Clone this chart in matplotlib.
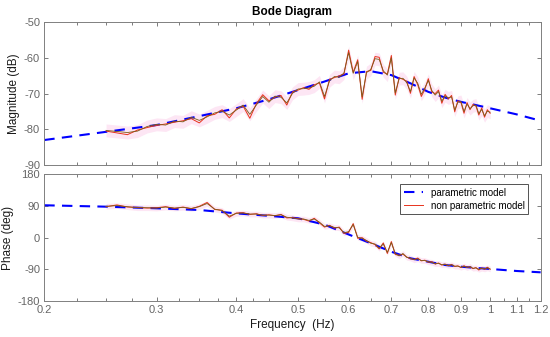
import matplotlib
matplotlib.use("Agg")
import matplotlib.pyplot as plt
from matplotlib.ticker import FixedLocator, NullFormatter, FixedFormatter

plt.rcParams['font.family'] = ['Liberation Sans', 'DejaVu Sans']
plt.rcParams['axes.unicode_minus'] = False

# ---- parametric model ----
par_freq = [0.2, 0.25, 0.3, 0.35, 0.4, 0.45, 0.5, 0.55, 0.6, 0.65, 0.7, 0.75,
            0.8, 0.85, 0.9, 0.95, 1.0, 1.1, 1.2]
par_mag = [-83.0, -80.7, -78.8, -76.3, -74.1, -71.6, -69.0, -66.6, -64.3, -63.7,
           -64.8, -67.1, -69.5, -71.1, -72.3, -73.2, -74.1, -75.8, -77.6]
par_phase = [92, 88, 83.4, 78.6, 69, 62, 55, 37, 9, -16, -40, -58.7,
             -68.5, -77.7, -82.5, -86, -89, -94.7, -98.5]

# ---- non parametric model ----
np_freq = [0.25, 0.26, 0.27, 0.28, 0.29, 0.30, 0.31, 0.32, 0.33, 0.34,
           0.35, 0.36, 0.37, 0.38, 0.39, 0.40, 0.41, 0.42, 0.43, 0.44,
           0.45, 0.46, 0.47, 0.48, 0.49, 0.50, 0.51, 0.52, 0.53, 0.54,
           0.55, 0.56, 0.57, 0.58, 0.59, 0.60, 0.61, 0.62, 0.63, 0.64,
           0.65, 0.66, 0.67, 0.68, 0.69, 0.70, 0.71, 0.72, 0.73, 0.74,
           0.75, 0.76, 0.77, 0.78, 0.79, 0.80, 0.81, 0.82, 0.83, 0.84,
           0.85, 0.86, 0.87, 0.88, 0.89, 0.90, 0.91, 0.92, 0.93, 0.94,
           0.95, 0.96, 0.97, 0.98, 0.99, 1.00]
np_mag = [-80.5, -81.0, -81.5, -80.2, -79.5, -78.9, -78.5, -78.0, -77.6, -77.0,
          -78.2, -76.2, -75.8, -74.5, -76.8, -74.3, -73.5, -76.9, -72.8, -70.3,
          -72.0, -71.0, -70.5, -73.2, -69.5, -69.0, -68.3, -68.8, -67.5, -67.0,
          -71.5, -66.0, -65.5, -65.0, -64.5, -57.8, -64.0, -60.5, -71.6, -63.8,
          -63.5, -59.6, -59.8, -64.0, -64.5, -59.3, -70.4, -65.5, -66.0, -66.5,
          -69.9, -65.2, -67.5, -70.8, -68.8, -65.8, -69.5, -70.0, -69.0, -72.7,
          -70.2, -71.5, -70.5, -75.1, -72.0, -72.5, -75.5, -72.5, -74.5, -73.0,
          -73.5, -76.0, -74.0, -76.6, -74.5, -75.5]
np_mag2 = [-80.3, -80.6, -80.9, -80.5, -79.2, -78.6, -78.8, -77.7, -77.9, -76.6,
           -77.5, -76.5, -75.4, -74.9, -76.0, -74.6, -73.2, -75.8, -73.2, -70.8,
           -72.4, -70.7, -71.0, -72.6, -69.9, -68.7, -68.6, -68.4, -67.9, -66.7,
           -70.8, -66.4, -65.2, -65.4, -64.2, -58.5, -64.3, -61.0, -70.9, -64.1,
           -63.2, -60.2, -60.4, -63.6, -64.8, -60.0, -69.8, -65.8, -65.7, -66.9,
           -69.4, -65.6, -67.1, -70.2, -68.4, -66.3, -69.1, -70.4, -69.4, -72.1,
           -70.6, -71.2, -70.9, -74.6, -72.4, -72.2, -75.0, -72.9, -74.2, -73.4,
           -73.2, -75.6, -74.4, -76.2, -74.9, -75.2]
np_phase = [88, 93, 87, 86, 84, 85, 88, 83, 87, 82,
            89, 100, 80, 78, 58, 70, 71, 66, 68, 63,
            65, 62, 66, 56, 57, 54, 52, 47, 55, 42,
            30, 35, 27, 30, 12, 15, 40, -2, 0, -10,
            -14, -20, -32, -15, -45, -11, -48, -50, -47, -55,
            -60, -62, -58, -66, -64, -70, -68, -75, -72, -78,
            -75, -80, -76, -82, -80, -85, -80, -84, -83, -88,
            -85, -92, -86, -90, -84, -90]
np_phase2 = [89, 91, 88, 85, 85, 84, 87, 84, 86, 83,
             88, 97, 81, 77, 61, 69, 70, 67, 67, 64,
             64, 63, 65, 58, 56, 53, 53, 49, 53, 44,
             32, 34, 29, 28, 14, 17, 37, 1, -2, -8,
             -16, -18, -30, -18, -42, -14, -45, -52, -45, -56,
             -58, -63, -60, -65, -65, -69, -70, -74, -73, -77,
             -76, -79, -77, -81, -81, -84, -81, -85, -82, -87,
             -86, -90, -87, -89, -86, -89]

# ---- axis settings ----
x_major = [0.2, 0.3, 0.4, 0.5, 0.6, 0.7, 0.8, 0.9, 1, 1.1, 1.2]
x_major_labels = ['0.2', '0.3', '0.4', '0.5', '0.6', '0.7', '0.8', '0.9', '1', '1.1', '1.2']
x_minor = [0.225, 0.25, 0.275, 0.325, 0.35, 0.375, 0.425, 0.45, 0.55, 0.65,
           0.75, 0.85, 0.95, 1.05, 1.15]
mag_ticks = [-90, -80, -70, -60, -50]
phase_ticks = [-180, -90, 0, 90, 180]

fig = plt.figure(figsize=(5.5, 3.37), dpi=100)
ax1 = fig.add_axes([0.0805, 0.5104, 0.9025, 0.4234])
ax2 = fig.add_axes([0.0805, 0.1068, 0.9025, 0.3760])

gray = '#666666'
band_col = '#fde6f4'

for ax in (ax1, ax2):
    ax.set_xscale('log')
    ax.set_xlim(0.2, 1.2)
    ax.xaxis.set_major_locator(FixedLocator(x_major))
    ax.xaxis.set_minor_locator(FixedLocator(x_minor))
    ax.xaxis.set_minor_formatter(NullFormatter())
    ax.tick_params(which='both', direction='in', top=True, right=True,
                   colors=gray, labelsize=8, width=0.6, pad=3)
    ax.tick_params(which='major', length=3)
    ax.tick_params(which='minor', length=2)
    for s in ax.spines.values():
        s.set_color('#808080')
        s.set_linewidth(0.7)

# magnitude
ax1.fill_between(np_freq, [v - 1.8 for v in np_mag2], [v + 1.8 for v in np_mag2],
                 color=band_col, lw=0, zorder=1)
ax1.plot(par_freq, par_mag, color='#0000ff', ls=(0, (5, 3.5)), lw=1.5, zorder=2)
ax1.plot(np_freq, np_mag, color='#e8321c', lw=0.7, zorder=3)
ax1.plot(np_freq, np_mag2, color='#7a5c1a', lw=0.6, zorder=4)
ax1.set_ylim(-90, -50)
ax1.set_yticks(mag_ticks)
ax1.xaxis.set_major_formatter(NullFormatter())
ax1.set_ylabel('Magnitude (dB)', fontsize=8.5, color='#1a1a1a', labelpad=3)
ax1.set_title('Bode Diagram', fontsize=8.5, fontweight='bold', pad=5)

# phase
ax2.fill_between(np_freq, [v - 8 for v in np_phase2], [v + 8 for v in np_phase2],
                 color=band_col, lw=0, zorder=1)
l1, = ax2.plot(par_freq, par_phase, color='#0000ff', ls=(0, (5, 3.5)), lw=1.5, zorder=2)
l2, = ax2.plot(np_freq, np_phase, color='#e8321c', lw=0.7, zorder=3)
ax2.plot(np_freq, np_phase2, color='#7a5c1a', lw=0.6, zorder=4)
ax2.set_ylim(-180, 180)
ax2.set_yticks(phase_ticks)
ax2.xaxis.set_major_formatter(FixedFormatter(x_major_labels))
ax2.set_ylabel('Phase (deg)', fontsize=8.5, color='#1a1a1a', labelpad=3)
ax2.set_xlabel('Frequency  (Hz)', fontsize=8.5, color='#1a1a1a', labelpad=3)

leg = ax2.legend([l1, l2], ['parametric model', 'non parametric model'],
                 loc='upper right', fontsize=7, frameon=True, fancybox=False,
                 handlelength=2.0, borderpad=0.35, labelspacing=0.3,
                 bbox_to_anchor=(0.985, 0.96))
leg.get_frame().set_edgecolor('#262626')
leg.get_frame().set_linewidth(0.7)

fig.savefig('out.png', dpi=100)
